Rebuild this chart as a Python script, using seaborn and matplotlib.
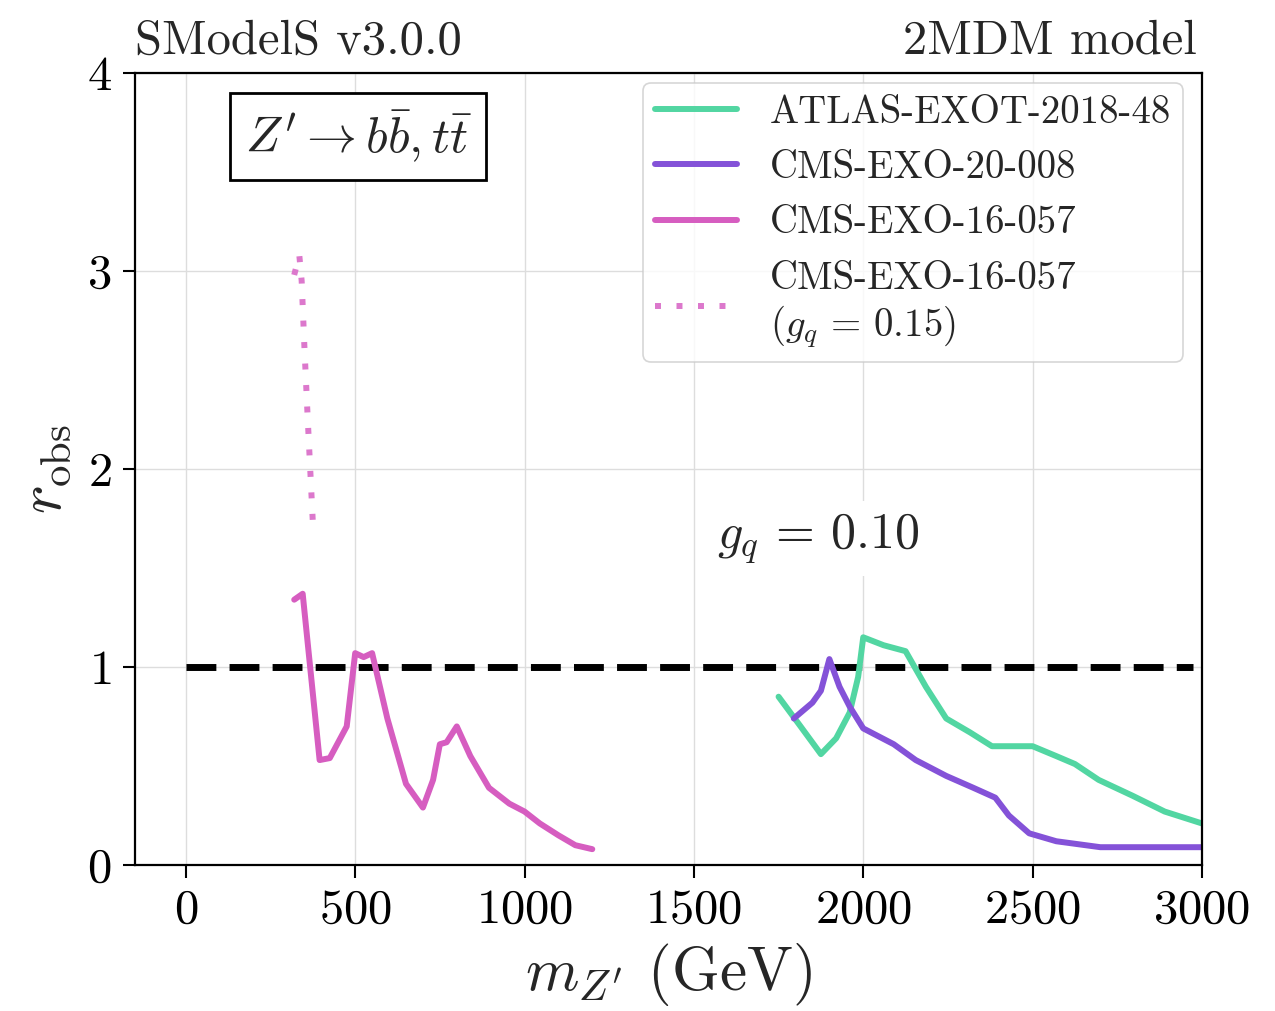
import matplotlib
matplotlib.use("Agg")
import matplotlib.pyplot as plt
import seaborn as sns
import pandas as pd

# r_obs versus Z' mass for each analysis
atlas_mass = [1750, 1815, 1875, 1920, 1960, 1985, 2000, 2060, 2125, 2185, 2245,
              2315, 2380, 2440, 2500, 2570, 2625, 2695, 2795, 2890, 3000]
atlas_r = [0.85, 0.70, 0.56, 0.64, 0.77, 0.95, 1.15, 1.11, 1.08, 0.90, 0.74,
           0.67, 0.60, 0.60, 0.60, 0.55, 0.51, 0.43, 0.35, 0.27, 0.21]

cms20_mass = [1795, 1850, 1875, 1900, 1930, 1960, 2000, 2090, 2155, 2245, 2325,
              2390, 2430, 2490, 2570, 2700, 2810, 2890, 3000]
cms20_r = [0.74, 0.82, 0.88, 1.04, 0.90, 0.80, 0.69, 0.61, 0.53, 0.45, 0.39,
           0.34, 0.25, 0.16, 0.12, 0.09, 0.09, 0.09, 0.09]

cms16_mass = [320, 345, 395, 425, 475, 500, 525, 550, 595, 650, 700, 730, 750,
              770, 800, 840, 895, 955, 1000, 1045, 1100, 1150, 1200]
cms16_r = [1.34, 1.37, 0.53, 0.54, 0.70, 1.07, 1.05, 1.07, 0.74, 0.41, 0.29,
           0.43, 0.61, 0.62, 0.70, 0.55, 0.39, 0.31, 0.27, 0.21, 0.15, 0.10, 0.08]

cms16_gq015_mass = [320, 335, 342, 350, 360, 375]
cms16_gq015_r = [2.98, 3.08, 2.95, 2.62, 2.25, 1.73]

x_ticks = [0, 500, 1000, 1500, 2000, 2500, 3000]
y_ticks = [0, 1, 2, 3, 4]

sns.set_theme(style="ticks")
plt.rcParams.update({
    "font.family": "serif",
    "font.serif": ["cmr10"],
    "mathtext.fontset": "cm",
    "axes.formatter.use_mathtext": True,
    "axes.unicode_minus": False,
})

fig = plt.figure(figsize=(12.75, 10.11), dpi=100)
ax = fig.add_axes([0.1059, 0.1444, 0.8368, 0.7834])

green = "#52d6a2"
purple = "#8452d8"
pink = "#d65dc0"
pink_light = "#dc78cc"
lw = 4.3

df_atlas = pd.DataFrame({"m": atlas_mass, "r": atlas_r})
df_cms20 = pd.DataFrame({"m": cms20_mass, "r": cms20_r})
df_cms16 = pd.DataFrame({"m": cms16_mass, "r": cms16_r})
df_cms16b = pd.DataFrame({"m": cms16_gq015_mass, "r": cms16_gq015_r})

sns.lineplot(data=df_atlas, x="m", y="r", ax=ax, color=green, linewidth=lw,
             sort=False, estimator=None, label="ATLAS-EXOT-2018-48")
sns.lineplot(data=df_cms20, x="m", y="r", ax=ax, color=purple, linewidth=lw,
             sort=False, estimator=None, label="CMS-EXO-20-008")
sns.lineplot(data=df_cms16, x="m", y="r", ax=ax, color=pink, linewidth=lw,
             sort=False, estimator=None, label="CMS-EXO-16-057")
sns.lineplot(data=df_cms16b, x="m", y="r", ax=ax, color=pink_light, linewidth=lw,
             sort=False, estimator=None, dashes=False,
             label="CMS-EXO-16-057\n$(g_q\\,=\\,0.15)$")
ax.lines[-1].set_dashes((1, 2.6))

# exclusion threshold r = 1
ax.plot([0, 2975], [1, 1], color="black", lw=5, dashes=(4.3, 1.9), zorder=1.5)

ax.set_xlim(-150, 3000)
ax.set_ylim(0, 4)
ax.set_xticks(x_ticks)
ax.set_yticks(y_ticks)
ax.grid(True, color="#dddddd", lw=1.0)
ax.set_axisbelow(True)
for s in ax.spines.values():
    s.set_color("black")
    s.set_linewidth(1.6)
ax.tick_params(axis="both", labelsize=35, length=9, width=1.5, color="black",
               labelcolor="black", pad=8, direction="out")

ax.set_xlabel(r"$m_{Z'}$ (GeV)", fontsize=44, labelpad=6)
ax.set_ylabel(r"$r_{\mathrm{obs}}$", fontsize=44, labelpad=10)

ax.set_title("SModelS v3.0.0", loc="left", fontsize=35, pad=14)
ax.set_title("2MDM model", loc="right", fontsize=35, pad=14, x=0.995)

ax.text(0.209, 0.920, r"$Z' \rightarrow b\bar{b}, t\bar{t}$", transform=ax.transAxes,
        fontsize=36, ha="center", va="center",
        bbox=dict(boxstyle="square,pad=0.3", facecolor="white", edgecolor="black", lw=2))

ax.text(1866, 1.65, r"$g_q\,=\,0.10$", fontsize=36, ha="center", va="center",
        bbox=dict(boxstyle="square,pad=0.2", facecolor="white", edgecolor="none"))

leg = ax.legend(loc="upper right", bbox_to_anchor=(0.982, 0.987), borderaxespad=0,
                fontsize=28, handlelength=2.1, handletextpad=0.85, labelspacing=0.5,
                borderpad=0.3, frameon=True, fancybox=True)
leg.get_frame().set_edgecolor("#cccccc")
leg.get_frame().set_linewidth(1.2)

fig.savefig("out.png", dpi=100)
